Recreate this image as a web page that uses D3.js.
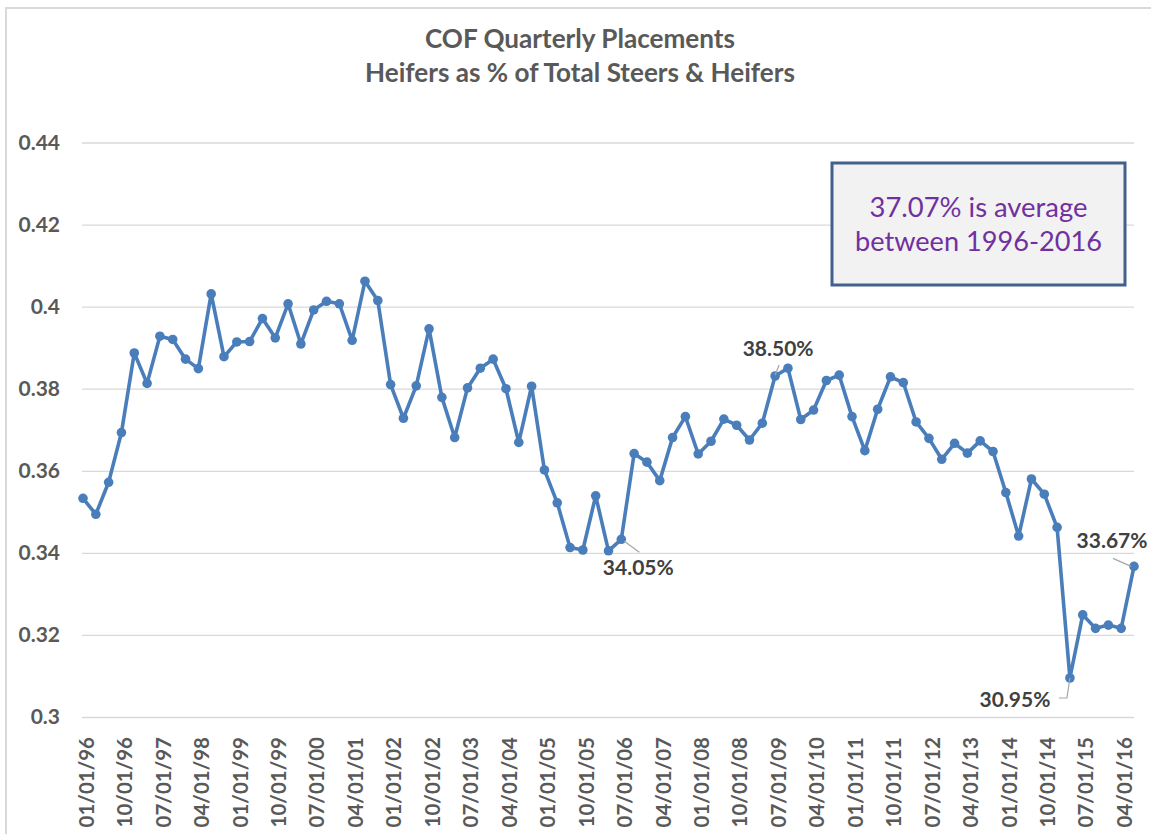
<!DOCTYPE html>
<html>
<head>
<meta charset="utf-8">
<script src="https://cdn.jsdelivr.net/npm/d3@7"></script>
<style>
  html, body { margin: 0; padding: 0; background: #ffffff; }
  svg { display: block; font-family: Lato, "Open Sans", sans-serif; }
</style>
</head>
<body>
<svg id="chart" width="1151" height="834"></svg>
<script>
// ---------------- data ----------------
const titleLines = ["COF Quarterly Placements", "Heifers as % of Total Steers & Heifers"];
const noteLines = ["37.07% is average", "between 1996-2016"];

const categories = [
  "01/01/96","04/01/96","07/01/96","10/01/96",
  "01/01/97","04/01/97","07/01/97","10/01/97",
  "01/01/98","04/01/98","07/01/98","10/01/98",
  "01/01/99","04/01/99","07/01/99","10/01/99",
  "01/01/00","04/01/00","07/01/00","10/01/00",
  "01/01/01","04/01/01","07/01/01","10/01/01",
  "01/01/02","04/01/02","07/01/02","10/01/02",
  "01/01/03","04/01/03","07/01/03","10/01/03",
  "01/01/04","04/01/04","07/01/04","10/01/04",
  "01/01/05","04/01/05","07/01/05","10/01/05",
  "01/01/06","04/01/06","07/01/06","10/01/06",
  "01/01/07","04/01/07","07/01/07","10/01/07",
  "01/01/08","04/01/08","07/01/08","10/01/08",
  "01/01/09","04/01/09","07/01/09","10/01/09",
  "01/01/10","04/01/10","07/01/10","10/01/10",
  "01/01/11","04/01/11","07/01/11","10/01/11",
  "01/01/12","04/01/12","07/01/12","10/01/12",
  "01/01/13","04/01/13","07/01/13","10/01/13",
  "01/01/14","04/01/14","07/01/14","10/01/14",
  "01/01/15","04/01/15","07/01/15","10/01/15",
  "01/01/16","04/01/16","07/01/16"
];

const heiferShare = [
  0.3533,0.3494,0.3572,0.3693,
  0.3887,0.3813,0.3928,0.3920,
  0.3872,0.3849,0.4031,0.3878,
  0.3914,0.3915,0.3971,0.3924,
  0.4007,0.3909,0.3992,0.4013,
  0.4007,0.3918,0.4062,0.4015,
  0.3810,0.3728,0.3807,0.3946,
  0.3779,0.3681,0.3802,0.3850,
  0.3872,0.3800,0.3669,0.3806,
  0.3602,0.3522,0.3413,0.3407,
  0.3539,0.3405,0.3433,0.3642,
  0.3621,0.3576,0.3681,0.3732,
  0.3641,0.3672,0.3726,0.3711,
  0.3675,0.3716,0.3831,0.3850,
  0.3725,0.3748,0.3820,0.3833,
  0.3732,0.3649,0.3750,0.3829,
  0.3815,0.3719,0.3679,0.3628,
  0.3667,0.3643,0.3673,0.3647,
  0.3547,0.3441,0.3580,0.3543,
  0.3462,0.3095,0.3249,0.3216,
  0.3224,0.3216,0.3367
];

const xTickLabels = [
  "01/01/96","10/01/96","07/01/97","04/01/98","01/01/99","10/01/99","07/01/00",
  "04/01/01","01/01/02","10/01/02","07/01/03","04/01/04","01/01/05","10/01/05",
  "07/01/06","04/01/07","01/01/08","10/01/08","07/01/09","04/01/10","01/01/11",
  "10/01/11","07/01/12","04/01/13","01/01/14","10/01/14","07/01/15","04/01/16"
];
const yTickValues = [0.3, 0.32, 0.34, 0.36, 0.38, 0.4, 0.42, 0.44];
const yTickLabels = ["0.3", "0.32", "0.34", "0.36", "0.38", "0.4", "0.42", "0.44"];

const labelledCategories = ["07/01/06", "07/01/09", "04/01/15", "07/01/16"];
const labelledTexts = ["34.05%", "38.50%", "30.95%", "33.67%"];

// ---------------- layout ----------------
const svg = d3.select("#chart");
const plot = { left: 83, right: 1134, top: 142.5, bottom: 717 };
const data = categories.map((c, i) => ({ cat: c, val: heiferShare[i] }));

const x = d3.scalePoint().domain(categories).range([plot.left, plot.right]);
const y = d3.scaleLinear().domain([0.3, 0.44]).range([plot.bottom, plot.top]);

const textGray = "#595959";
const lineBlue = "#4a7ebb";

// outer chart border (partially visible)
svg.append("rect")
  .attr("x", 6).attr("y", 8).attr("width", 1170).attr("height", 850)
  .attr("fill", "none").attr("stroke", "#d9d9d9").attr("stroke-width", 2);

// title
function fitText(sel, target) {
  const len = sel.node().getComputedTextLength();
  const fs = parseFloat(sel.style("font-size"));
  sel.style("font-size", (fs * target / len).toFixed(2) + "px");
}
const titleWidths = [310, 430];
const titleBaselines = [48, 82];
titleLines.forEach((t, i) => {
  const tt = svg.append("text")
    .attr("x", 580).attr("y", titleBaselines[i])
    .attr("text-anchor", "middle")
    .style("font-size", "24px").style("font-weight", "700")
    .attr("fill", textGray).text(t);
  fitText(tt, titleWidths[i]);
});

// y axis with gridlines
const yAxis = d3.axisLeft(y)
  .tickValues(yTickValues)
  .tickFormat((d, i) => yTickLabels[i])
  .tickSizeInner(-(plot.right - plot.left + 1))
  .tickSizeOuter(0)
  .tickPadding(22);
const gy = svg.append("g")
  .attr("transform", `translate(${plot.left - 1},0)`)
  .call(yAxis);
gy.select(".domain").remove();
gy.selectAll(".tick line").attr("stroke", "#d9d9d9").attr("stroke-width", 1.3);
gy.selectAll(".tick text")
  .attr("fill", textGray)
  .style("font-size", "21px").style("font-weight", "700")
  .style("font-family", "Lato, sans-serif");

// x axis labels
const xAxis = d3.axisBottom(x).tickValues(xTickLabels).tickSize(0);
const gx = svg.append("g")
  .attr("transform", `translate(0,${plot.bottom})`)
  .call(xAxis);
gx.select(".domain").remove();
gx.selectAll(".tick text")
  .attr("fill", textGray)
  .style("font-size", "20.5px").style("font-weight", "700")
  .style("font-family", "Lato, sans-serif")
  .attr("transform", "rotate(-90)")
  .attr("x", -20).attr("y", 0).attr("dy", "0.5em")
  .style("text-anchor", "end");

// line
const line = d3.line().x(d => x(d.cat)).y(d => y(d.val));
svg.append("path")
  .datum(data)
  .attr("d", line)
  .attr("fill", "none")
  .attr("stroke", lineBlue)
  .attr("stroke-width", 3.6)
  .attr("stroke-linejoin", "round");

svg.append("g").selectAll("circle")
  .data(data)
  .join("circle")
  .attr("cx", d => x(d.cat))
  .attr("cy", d => y(d.val))
  .attr("r", 4.8)
  .attr("fill", lineBlue);

// data labels with leader lines
const labelPlacement = {
  "07/01/06": { dx: 17, dy: 36, leader: [[3, 2], [18, 13]] },
  "07/01/09": { dx: 3, dy: -20, leader: [[0, -1], [4, -11]] },
  "04/01/15": { dx: -55, dy: 29, leader: [[0, 0], [-3, 20], [-11, 20]] },
  "07/01/16": { dx: -22, dy: -18, leader: [[-3, 0], [-21, -8]] }
};
labelledCategories.forEach((c, i) => {
  const d = data.find(e => e.cat === c);
  const px = x(d.cat), py = y(d.val);
  const p = labelPlacement[c];
  svg.append("path")
    .attr("d", d3.line()(p.leader.map(q => [px + q[0], py + q[1]])))
    .attr("fill", "none").attr("stroke", "#a6a6a6").attr("stroke-width", 1.2);
  svg.append("text")
    .attr("x", px + p.dx).attr("y", py + p.dy)
    .attr("text-anchor", "middle")
    .style("font-size", "21px").style("font-weight", "700")
    .attr("fill", "#404040")
    .text(labelledTexts[i]);
});

// note box
svg.append("rect")
  .attr("x", 832).attr("y", 163).attr("width", 293).attr("height", 122)
  .attr("fill", "#f2f2f2").attr("stroke", "#41618c").attr("stroke-width", 3);
const noteWidths = [218, 247];
const noteBaselines = [217, 251];
noteLines.forEach((t, i) => {
  const tt = svg.append("text")
    .attr("x", 978.5).attr("y", noteBaselines[i])
    .attr("text-anchor", "middle")
    .style("font-size", "26px").style("font-weight", "400")
    .attr("fill", "#7030a0").text(t);
  fitText(tt, noteWidths[i]);
});
</script>
</body>
</html>
